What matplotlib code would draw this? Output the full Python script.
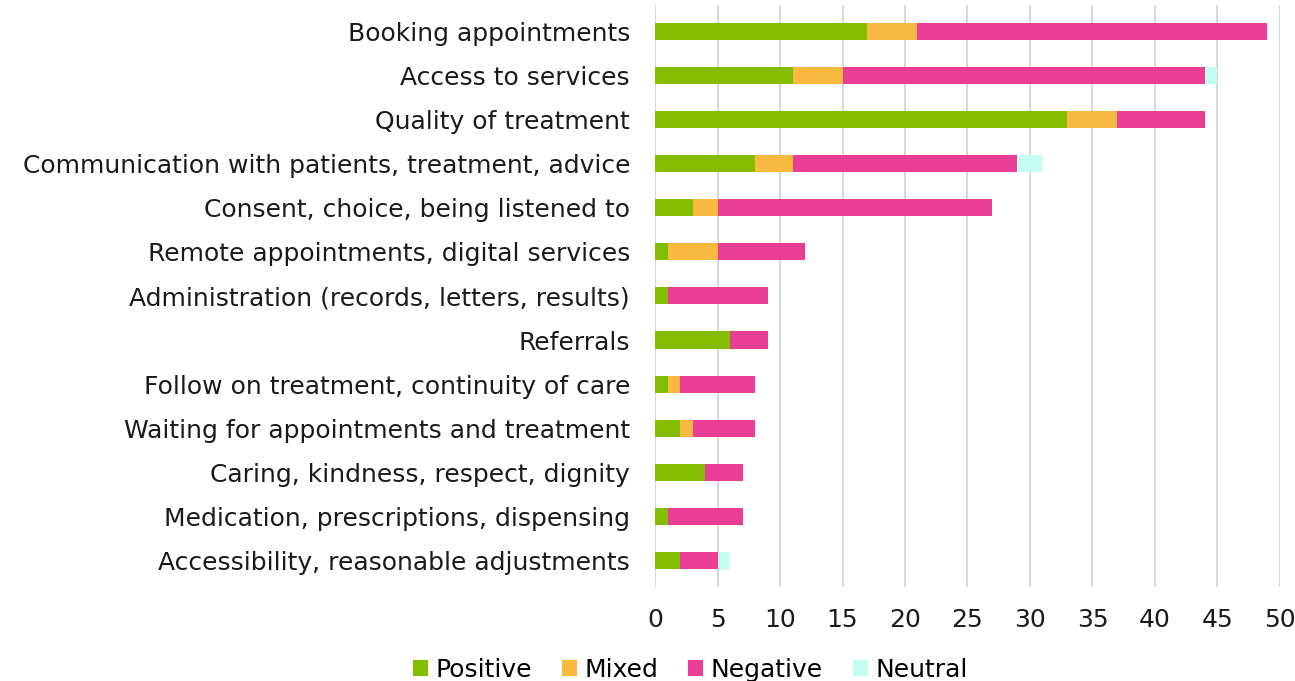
import numpy as np
import matplotlib
matplotlib.use("Agg")
import matplotlib.pyplot as plt

# Data
categories = [
    "Booking appointments",
    "Access to services",
    "Quality of treatment",
    "Communication with patients, treatment, advice",
    "Consent, choice, being listened to",
    "Remote appointments, digital services",
    "Administration (records, letters, results)",
    "Referrals",
    "Follow on treatment, continuity of care",
    "Waiting for appointments and treatment",
    "Caring, kindness, respect, dignity",
    "Medication, prescriptions, dispensing",
    "Accessibility, reasonable adjustments",
]
positive = [17, 11, 33, 8, 3, 1, 1, 6, 1, 2, 4, 1, 2]
mixed = [4, 4, 4, 3, 2, 4, 0, 0, 1, 1, 0, 0, 0]
negative = [28, 29, 7, 18, 22, 7, 8, 3, 6, 5, 3, 6, 3]
neutral = [0, 1, 0, 2, 0, 0, 0, 0, 0, 0, 0, 0, 1]

series = [
    ("Positive", positive, "#84BC00"),
    ("Mixed", mixed, "#F9B940"),
    ("Negative", negative, "#E83E96"),
    ("Neutral", neutral, "#C2FDEF"),
]

plt.rcParams['font.family'] = ['DejaVu Sans']
fs = 18

fig = plt.figure(figsize=(12.95, 6.81), dpi=100)
ax = fig.add_axes([0.5058, 0.138, 0.4826, 0.855])

y = np.arange(len(categories))
left = np.zeros(len(categories))
for name, vals, color in series:
    vals = np.array(vals, dtype=float)
    ax.barh(y, vals, left=left, height=0.39, color=color, label=name, zorder=3)
    left += vals

ax.set_yticks(y)
ax.set_yticklabels(categories, fontsize=fs, color="#1a1a1a")
ax.set_ylim(12.6, -0.6)

ax.set_xlim(0, 50)
ax.set_xticks(np.arange(0, 51, 5))
ax.tick_params(axis="x", labelsize=fs, colors="#1a1a1a", length=0, pad=15)
ax.tick_params(axis="y", length=0, pad=18)
ax.xaxis.grid(True, color="#d9d9d9", linewidth=1.5, zorder=0)
for s in ax.spines.values():
    s.set_visible(False)

fig.legend(loc="lower center", bbox_to_anchor=(0.533, -0.034), ncol=4,
           frameon=False, fontsize=fs, handlelength=0.6, handleheight=0.6,
           handletextpad=0.3, columnspacing=1.2)

fig.savefig("out.png", dpi=100)
